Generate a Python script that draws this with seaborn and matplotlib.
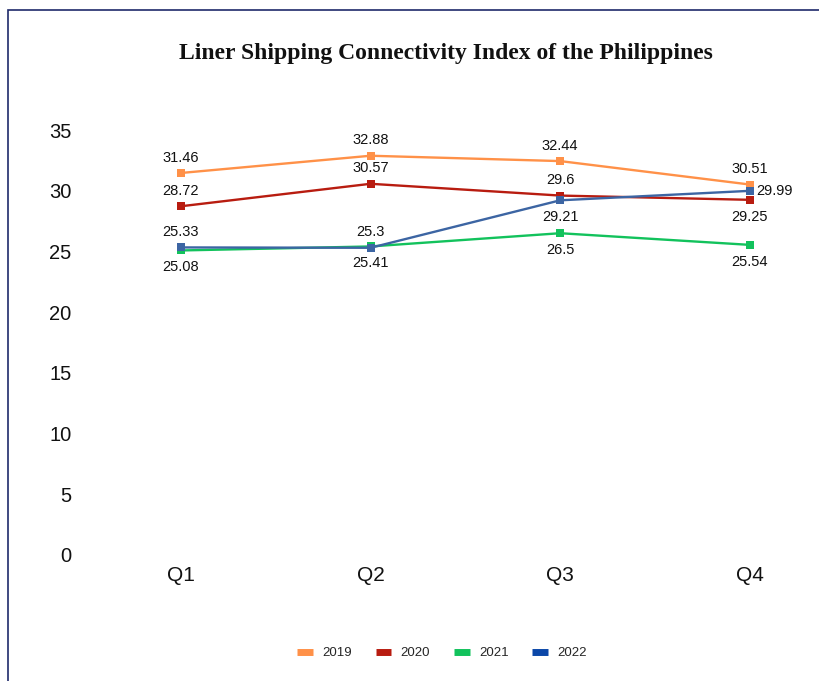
import matplotlib
matplotlib.use("Agg")
import matplotlib.pyplot as plt
from matplotlib.lines import Line2D
from matplotlib.patches import Rectangle
import seaborn as sns
import pandas as pd

quarters = ["Q1", "Q2", "Q3", "Q4"]
years = ["2019", "2020", "2021", "2022"]
lsci_2019 = [31.46, 32.88, 32.44, 30.51]
lsci_2020 = [28.72, 30.57, 29.6, 29.25]
lsci_2021 = [25.08, 25.41, 26.5, 25.54]
lsci_2022 = [25.33, 25.3, 29.21, 29.99]
y_ticks = [0, 5, 10, 15, 20, 25, 30, 35]

line_colors = {"2019": "#ff9148", "2020": "#b81c10", "2021": "#12c25c", "2022": "#3c65a3"}
legend_colors = {"2019": "#ff9148", "2020": "#b81c10", "2021": "#12c25c", "2022": "#0b47a8"}

# where each data label sits relative to its marker
label_side = {
    "2019": ["above", "above", "above", "above"],
    "2020": ["above", "above", "above", "below"],
    "2021": ["below", "below", "below", "below"],
    "2022": ["above", "above", "below", "right"],
}

values = {"2019": lsci_2019, "2020": lsci_2020, "2021": lsci_2021, "2022": lsci_2022}
df = pd.DataFrame(
    [(q, y, v) for y in years for q, v in zip(quarters, values[y])],
    columns=["quarter", "year", "lsci"],
)
df["x"] = df["quarter"].map({q: i for i, q in enumerate(quarters)})

sns.set_theme(style="white")
plt.rcParams["font.family"] = ["Liberation Sans", "DejaVu Sans"]

fig = plt.figure(figsize=(8.19, 6.81), dpi=100)
ax = fig.add_axes([88 / 819, 126 / 681, 1 - 88 / 819, 425 / 681])

sns.lineplot(
    data=df, x="x", y="lsci", hue="year", palette=line_colors,
    marker="s", markersize=5.5, markeredgewidth=0, linewidth=1.7,
    legend=False, ax=ax,
)

offsets = {"above": (0, 6, "center", "bottom"), "below": (0, -7, "center", "top"),
           "right": (5, 0, "left", "center")}
for y in years:
    for i, v in enumerate(values[y]):
        dx, dy, ha, va = offsets[label_side[y][i]]
        ax.annotate(f"{v:g}", (i, v), xytext=(dx, dy), textcoords="offset points",
                    ha=ha, va=va, fontsize=10.5, color="#111111")

ax.set_xlim(-0.49, (819 - 750) / 189 + 3)
ax.set_ylim(0, 35)
ax.set_xticks(range(len(quarters)))
ax.set_xticklabels(quarters)
ax.set_yticks(y_ticks)
ax.tick_params(axis="y", labelsize=14.5, pad=12, length=0, colors="#111111")
ax.tick_params(axis="x", labelsize=15, pad=8, length=0, colors="#111111")
ax.set_xlabel("")
ax.set_ylabel("")
for s in ax.spines.values():
    s.set_visible(False)
ax.grid(False)

fig.text(446 / 819, 1 - 53 / 681, "Liner Shipping Connectivity Index of the Philippines",
         ha="center", va="center", fontsize=17, fontweight="bold",
         family=["Liberation Serif", "DejaVu Serif"], color="#111111")

handles = [Line2D([0], [0], color=legend_colors[y], linewidth=5, solid_capstyle="butt")
           for y in years]
fig.legend(handles, years, loc="center", bbox_to_anchor=(442 / 819, 1 - 653 / 681),
           ncol=4, frameon=False, fontsize=9.5, handlelength=1.2, columnspacing=1.8,
           handletextpad=0.7)

fig.patches.append(Rectangle((8 / 819, -0.1), 1.2, 1 - 10 / 681 + 0.1,
                             transform=fig.transFigure, fill=False,
                             edgecolor="#1f2a6b", linewidth=1.2))

fig.savefig("out.png", dpi=100)
